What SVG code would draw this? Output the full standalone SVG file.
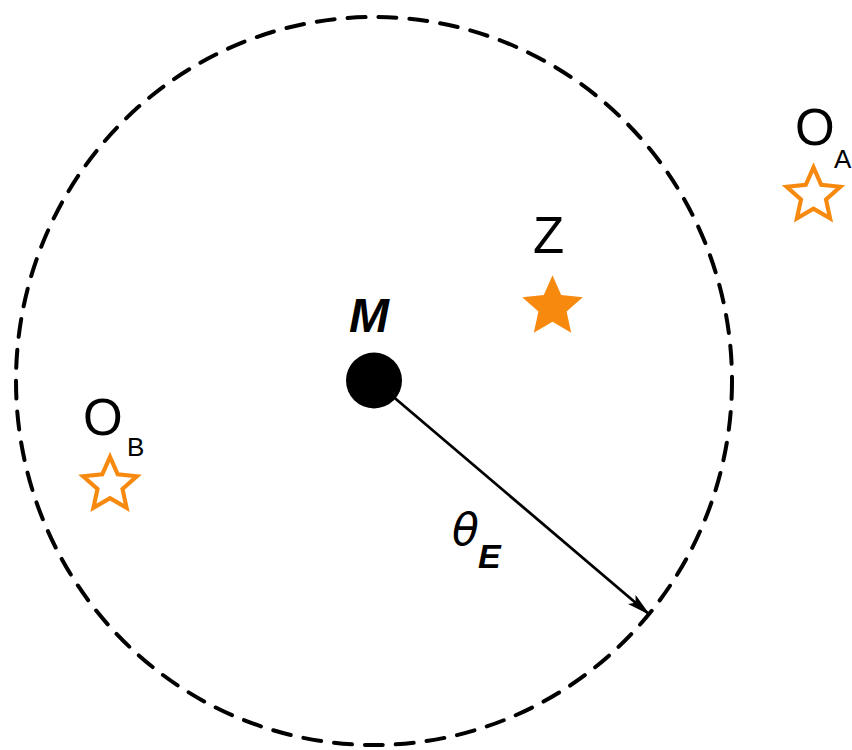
<svg xmlns="http://www.w3.org/2000/svg" width="852" height="750" viewBox="0 0 852 750">
<style>
.lbl{font-family:"Liberation Sans",Arial,sans-serif;fill:#000}
.star-f{fill:#F7890F;stroke:none}
.star-h{fill:#fff;stroke:#F7890F;stroke-width:4.4;stroke-linejoin:miter}
</style>
<defs>
<path id="star" d="M0,-30 L8.2,-11.3 L28.53,-9.27 L13.3,4.3 L17.63,24.27 L0,14 L-17.63,24.27 L-13.3,4.3 L-28.53,-9.27 L-8.2,-11.3 Z"/>
<marker id="ah" viewBox="0 0 24 12" refX="24" refY="6" markerWidth="24" markerHeight="12" markerUnits="userSpaceOnUse" orient="auto">
<path d="M0,0 L24,6 L0,12 L5,6 Z" fill="#000"/>
</marker>
</defs>
<g id="boundary">
<ellipse cx="374" cy="381" rx="358" ry="364" fill="none" stroke="#000" stroke-width="4" stroke-dasharray="18 13" stroke-linecap="round"/>
</g>
<g id="connectors">
<line x1="390" y1="394" x2="650" y2="615" stroke="#000" stroke-width="2.8" marker-end="url(#ah)"/>
<g id="label-thetaE">
<text x="452" y="545" font-family="'DejaVu Sans',sans-serif" font-style="italic" font-size="44">θ</text>
<text x="478" y="568" class="lbl" font-weight="bold" font-style="italic" font-size="34">E</text>
</g>
</g>
<g id="M">
<circle cx="374" cy="380.5" r="28" fill="#000"/>
<text x="349" y="332" class="lbl" font-weight="bold" font-style="italic" font-size="48">M</text>
</g>
<g id="Z">
<text x="533" y="253" class="lbl" font-size="51">Z</text>
<use href="#star" class="star-f" transform="translate(552.5,307) scale(1.06)"/>
</g>
<g id="OA">
<text x="795" y="145" class="lbl" font-size="51">O</text>
<text x="834" y="168" class="lbl" font-size="26">A</text>
<use href="#star" class="star-h" transform="translate(813.5,195.5) scale(0.94)"/>
</g>
<g id="OB">
<text x="83" y="435" class="lbl" font-size="51">O</text>
<text x="127" y="456" class="lbl" font-size="26">B</text>
<use href="#star" class="star-h" transform="translate(110,485) scale(0.94)"/>
</g>
</svg>
